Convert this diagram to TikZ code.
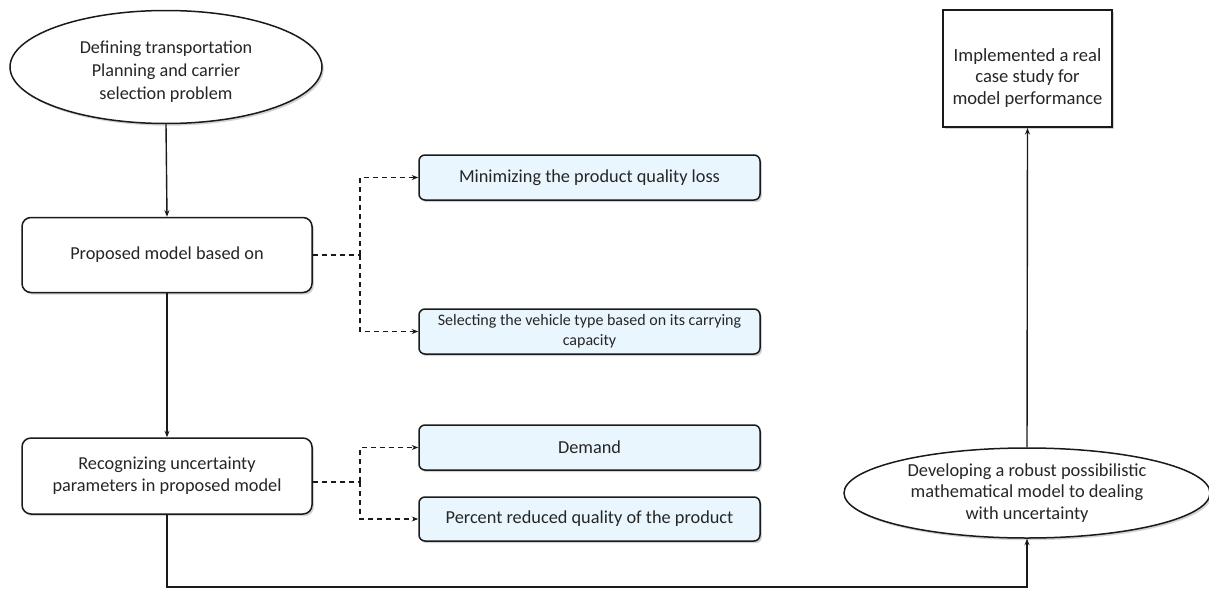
\documentclass[tikz,border=0pt]{standalone}
\usepackage{fontspec}
\setmainfont{Carlito}
\usetikzlibrary{shapes.geometric,arrows.meta,shadows}
\definecolor{txt}{HTML}{262626}
\definecolor{lineclr}{HTML}{1A1A1A}
\definecolor{lblue}{HTML}{EAF6FD}
\tikzset{
  shd/.style={drop shadow={opacity=0.35,shadow xshift=1.8pt,shadow yshift=-2.2pt,fill=gray}},
  ell/.style={ellipse,draw=lineclr,line width=1.5pt,fill=white,shd,inner sep=0pt,align=center,text=txt,font=\fontsize{18.2}{22}\selectfont},
  bigbox/.style={rectangle,rounded corners=9pt,draw=lineclr,line width=1.5pt,fill=white,shd,inner sep=0pt,align=center,text=txt,font=\fontsize{18.3}{22}\selectfont,minimum width=290pt,minimum height=75pt},
  subbox/.style={rectangle,rounded corners=6pt,draw=lineclr,line width=1.5pt,fill=lblue,shd,inner sep=0pt,align=center,text=txt,font=\fontsize{18.3}{22}\selectfont,minimum width=341pt,minimum height=45pt},
  sqbox/.style={rectangle,draw=lineclr,line width=2pt,fill=white,shd,inner sep=0pt,minimum width=169pt,minimum height=117pt},
  plain/.style={inner sep=0pt,align=center,text=txt,font=\fontsize{18.6}{21.5}\selectfont},
  flow/.style={draw=lineclr,line width=1.4pt,-{Stealth[length=6.5pt,width=5pt]}},
  dflow/.style={draw=lineclr,line width=1.4pt,dash pattern=on 5pt off 4pt,-{Stealth[length=6.5pt,width=5pt]}},
  dline/.style={draw=lineclr,line width=1.4pt,dash pattern=on 5pt off 4pt},
}
\begin{document}
\begin{tikzpicture}[x=1pt,y=-1pt]
\useasboundingbox (0,0) rectangle (1209,589);
\node[ell,minimum width=312pt,minimum height=113pt] (e1) at (166,67) {};
\node[plain,font=\fontsize{18.2}{23}\selectfont] (e1t) at (166,72)
  {Defining transportation\\Planning and carrier\\selection problem};
\node[bigbox] (b1) at (167,255) {Proposed model based on};
\node[bigbox,minimum height=76pt] (b2) at (167,476) {Recognizing uncertainty\\parameters in proposed model};
\node[subbox] (m1) at (589.5,177.5) {Minimizing the product quality loss};
\node[subbox,font=\fontsize{16}{20}\selectfont] (m2) at (589.5,331.5) {Selecting the vehicle type based on its carrying\\capacity};
\node[subbox] (d1) at (589.5,447.5) {Demand};
\node[subbox,minimum height=44pt] (d2) at (589.5,519) {Percent reduced quality of the product};
\node[ell,minimum width=366pt,minimum height=90pt,font=\fontsize{18.4}{21.5}\selectfont] (e2) at (1027,493)
  {Developing a robust possibilistic\\mathematical model to dealing\\with uncertainty};
\node[sqbox] (top) at (1027.5,68.5) {};
\node[plain] (topt) at (1027.5,78) {Implemented a real\\case study for\\model performance};
\coordinate (j1) at (360,255);
\coordinate (j2) at (360,482);
\coordinate (bot) at (600,587);
\draw[flow] (e1.south) -- (b1.north);
\draw[flow] (b1.south) -- (b2.north);
\draw[dline] (b1.east) -- (j1);
\draw[dflow] (j1) |- (m1.west);
\draw[dflow] (j1) |- (m2.west);
\draw[dline] (b2.east |- j2) -- (j2);
\draw[dflow] (j2) |- (d1.west);
\draw[dflow] (j2) |- (d2.west);
\draw[flow] (b2.south) |- (bot) -| (e2.south);
\draw[flow] (e2.north) -- (top.south);
\end{tikzpicture}
\end{document}
